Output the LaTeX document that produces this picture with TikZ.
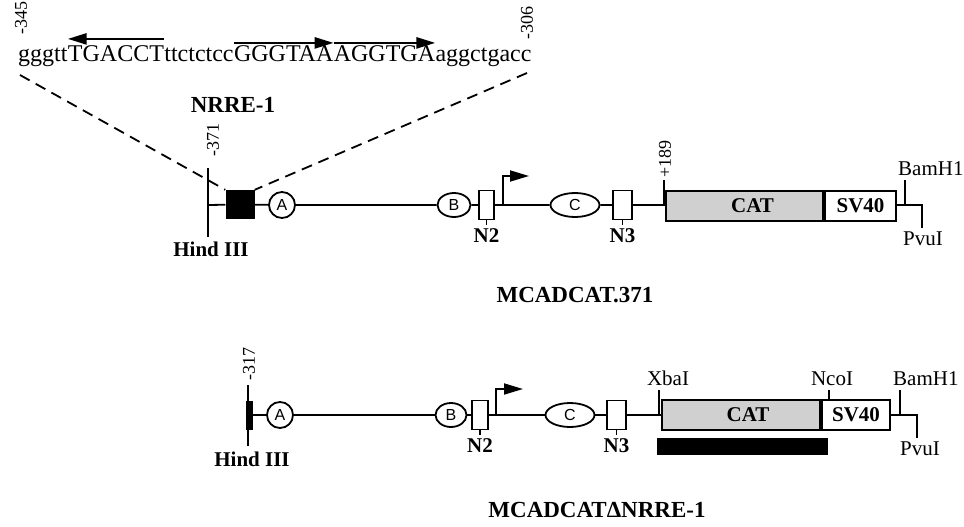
\documentclass[tikz,border=0pt]{standalone}
\usepackage{fontspec}
\setmainfont{Liberation Serif}
\newfontfamily\circfont{Liberation Sans}
\usepackage{tikz}
\usetikzlibrary{arrows.meta,positioning,calc,shapes.geometric}
\definecolor{catgrey}{HTML}{D0D0D0}

\begin{document}
\begin{tikzpicture}[x=1pt,y=-1pt,
  seq/.style={inner sep=0pt,anchor=base west,font=\fontsize{24}{28}\selectfont},
  motif/.style={line width=2.6pt,-{Triangle[length=19pt,width=11pt]}},
  dna/.style={line width=1.8pt},
  zoomline/.style={line width=1.8pt,dash pattern=on 11pt off 7pt},
  coordlbl/.style={rotate=90,anchor=west,inner sep=0pt,font=\fontsize{18}{21}\selectfont},
  site/.style={inner sep=0pt,font=\fontsize{21}{24}\selectfont},
  tag/.style={inner sep=0pt,font=\bfseries\fontsize{21}{24}\selectfont},
  title/.style={inner sep=0pt,anchor=base,font=\bfseries\fontsize{23}{28}\selectfont},
  circ/.style={circle,draw,line width=1.8pt,fill=white,minimum size=26pt,inner sep=0pt,font=\circfont\fontsize{16}{18}\selectfont},
  oval/.style={ellipse,draw,line width=1.8pt,fill=white,minimum height=24pt,inner sep=0pt,font=\circfont\fontsize{16}{18}\selectfont},
  nbox/.style={rectangle,draw,line width=1.8pt,fill=white,minimum width=16pt,minimum height=29pt,inner sep=0pt},
  catbox/.style={rectangle,draw,line width=2pt,fill=catgrey,minimum height=30pt,inner sep=0pt,font=\bfseries\fontsize{21}{24}\selectfont},
  svbox/.style={rectangle,draw,line width=2pt,fill=white,minimum height=30pt,inner sep=0pt,anchor=west,font=\bfseries\fontsize{21}{24}\selectfont},
  prom/.style={line width=1.8pt,-{Triangle[length=19pt,width=11pt]}}
]
  \useasboundingbox (0,0) rectangle (964,527);

  % NRRE-1 sequence
  \node[seq] (s1) at (18,62) {gggtt};
  \node[seq] (s2) at (s1.base east) {TGACCT};
  \node[seq] (s3) at (s2.base east) {ttctctcc};
  \node[seq] (s4) at (s3.base east) {GGGTAA};
  \node[seq] (s5) at (s4.base east) {AGGTGA};
  \node[seq] (s6) at (s5.base east) {aggctgacc};
  \draw[motif] ($(s2.north east)+(0,-7)$) -- ($(s2.north west)+(0,-7)$);
  \draw[motif] ($(s4.north west)+(0,-3)$) -- ($(s4.north east)+(0,-3)$);
  \draw[motif] ($(s5.north west)+(0,-3)$) -- ($(s5.north east)+(0,-3)$);
  \node[coordlbl] (l345) at (21,35) {-345};
  \node[coordlbl] (l306) at (527,40) {-306};
  \node[title] (nrrelbl) at (233,113) {NRRE-1};

  % MCADCAT.371
  \coordinate (hA) at (208,205);
  \coordinate (hAtop) at (208,168);
  \coordinate (hAbot) at (208,237);
  \node[rectangle,fill=black,minimum size=29pt,inner sep=0pt] (nrreA) at (240,204.5) {};
  \node[circ] (aA) at (282,205) {A};
  \node[oval,minimum width=33pt] (bA) at (454,205) {B};
  \node[nbox,minimum width=15pt] (n2A) at (486.5,205) {};
  \node[oval,minimum width=49pt] (cA) at (575,205) {C};
  \node[nbox,minimum width=19pt] (n3A) at (622.5,205) {};
  \coordinate (p189) at (664,205);
  \coordinate (p189top) at (664,180);
  \node[catbox,minimum width=157pt] (catA) at (744.5,206) {\hspace*{16pt}CAT};
  \node[svbox,minimum width=71pt] (svA) at (catA.east) {SV40};
  \coordinate (bamA) at (905,205);
  \coordinate (bamAtop) at (905,180);
  \coordinate (pvuA) at (922,205);
  \coordinate (pvuAbot) at (922,228);
  \coordinate (tssA) at (503,205);
  \coordinate (tssAend) at (529,176);

  \draw[dna] (hAtop) -- (hAbot);
  \draw[dna] (hA) -- (nrreA) -- (aA) -- (bA) -- (n2A) -- (cA) -- (n3A) -- (p189 -| catA.west);
  \draw[dna] (svA.east |- pvuA) -- (pvuA) -- (pvuAbot);
  \draw[dna] (bamA) -- (bamAtop);
  \draw[dna] (p189) -- (p189top);
  \draw[dna] (n2A.south) -- ++(0,5) coordinate (n2Aend);
  \draw[dna] (n3A.south) -- ++(0,5) coordinate (n3Aend);
  \draw[prom] (tssA) |- (tssAend);
  \coordinate (seqL) at (20,75);
  \coordinate (seqR) at (527,73);
  \draw[zoomline] (seqL) -- (nrreA.north west);
  \draw[zoomline] (seqR) -- (nrreA.north east);

  \node[coordlbl] (l371) at (213,157) {-371};
  \node[coordlbl] (l189) at (665,178) {+189};
  \node[tag,anchor=north] (hindA) at (211,242) {Hind III};
  \node[tag,below=3pt of n2Aend] (n2lblA) {N2};
  \node[tag,below=3pt of n3Aend] (n3lblA) {N3};
  \node[site,anchor=base west] (bamlblA) at (898,175) {BamH1};
  \node[site,anchor=north] (pvulblA) at (923,232) {PvuI};
  \node[title] (mcadA) at (575,302) {MCADCAT.371};

  % MCADCAT delta NRRE-1
  \coordinate (hB) at (248,415);
  \coordinate (hBtop) at (248,385);
  \coordinate (hBbot) at (248,446);
  \node[rectangle,fill=black,minimum width=7pt,minimum height=29pt,inner sep=0pt] (nrreB) at (249.5,415.5) {};
  \node[circ] (aB) at (280,415) {A};
  \node[oval,minimum width=31pt] (bB) at (451,415) {B};
  \node[nbox] (n2B) at (480,415) {};
  \node[oval,minimum width=49pt] (cB) at (570,415) {C};
  \node[nbox,minimum width=19pt] (n3B) at (616.5,415) {};
  \coordinate (xba) at (659,415);
  \coordinate (xbatop) at (659,390);
  \node[catbox,minimum width=158pt] (catB) at (741,415) {\hspace*{14pt}CAT};
  \node[svbox,minimum width=68pt] (svB) at (catB.east) {SV40};
  \coordinate (nco) at ($(svB.north west)+(8,0)$);
  \coordinate (ncotop) at ($(svB.north west)+(8,-9)$);
  \coordinate (bamB) at (900,415);
  \coordinate (bamBtop) at (900,390);
  \coordinate (pvuB) at (917,415);
  \coordinate (pvuBbot) at (917,438);
  \coordinate (tssB) at (496,415);
  \coordinate (tssBend) at (523,389);
  \node[rectangle,fill=black,minimum width=171pt,minimum height=17pt,inner sep=0pt] (probe) at (742.5,446.5) {};

  \draw[dna] (hBtop) -- (hBbot);
  \draw[dna] (hB) -- (aB) -- (bB) -- (n2B) -- (cB) -- (n3B) -- (catB);
  \draw[dna] (svB) -- (pvuB) -- (pvuBbot);
  \draw[dna] (bamB) -- (bamBtop);
  \draw[dna] (xba) -- (xbatop);
  \draw[dna] (nco) -- (ncotop);
  \draw[dna] (n2B.south) -- ++(0,5) coordinate (n2Bend);
  \draw[dna] (n3B.south) -- ++(0,5) coordinate (n3Bend);
  \draw[prom] (tssB) |- (tssBend);

  \node[coordlbl] (l317) at (249,381) {-317};
  \node[tag,anchor=north] (hindB) at (252,452) {Hind III};
  \node[tag,below=3pt of n2Bend] (n2lblB) {N2};
  \node[tag,below=3pt of n3Bend] (n3lblB) {N3};
  \node[site,anchor=base] (xbalblB) at (668,385) {XbaI};
  \node[site,anchor=base] (ncolblB) at (832,385) {NcoI};
  \node[site,anchor=base west] (bamlblB) at (893,385) {BamH1};
  \node[site,anchor=north] (pvulblB) at (920,442) {PvuI};
  \node[title] (mcadB) at (597,517) {MCADCATΔNRRE-1};
\end{tikzpicture}
\end{document}
